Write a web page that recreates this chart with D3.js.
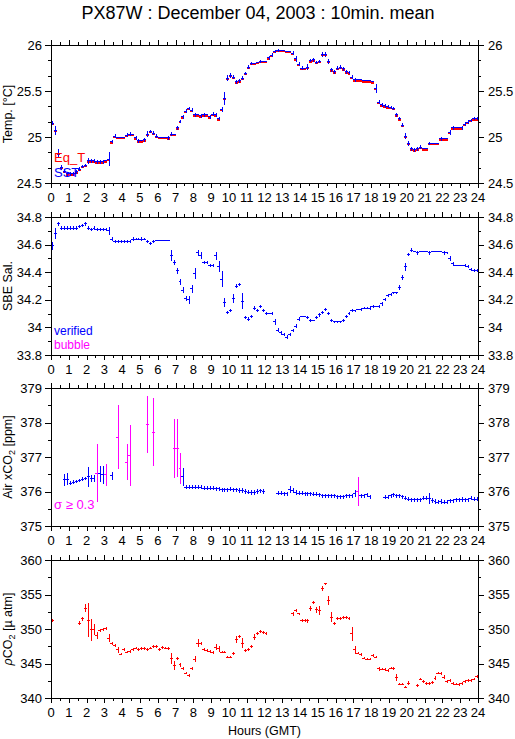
<!DOCTYPE html>
<html>
<head>
  <meta charset="utf-8">
  <title>PX87W 10min mean</title>
  <script src="https://d3js.org/d3.v7.min.js"></script>
  <style>
    body { margin: 0; background: #fff; }
    svg { display: block; font-family: "Liberation Sans", Arial, Helvetica, sans-serif; }
    line { shape-rendering: crispEdges; }
  </style>
</head>
<body>
  <div id="chart"></div>
  <script>
    // 10-minute slots, 144 per day; slot i covers hours i/6 .. (i+1)/6
    var hourTicks = d3.range(0, 25);

    var sstVal = [
      25.15,25.07,24.82,24.67,24.63,24.60,24.60,24.60,24.62,24.65,24.68,24.69,
      24.74,24.74,24.74,24.73,24.73,24.73,24.74,24.76,24.95,25.01,25.00,25.00,
      25.00,25.02,25.03,25.03,24.99,24.96,24.96,24.97,25.03,25.06,25.04,25.01,
      25.00,25.00,25.00,24.99,25.03,25.03,25.10,25.17,25.22,25.28,25.31,25.29,
      25.24,25.24,25.23,25.24,25.24,25.22,25.25,25.24,25.20,25.30,25.42,25.64,
      25.67,25.65,25.60,25.61,25.64,25.69,25.76,25.80,25.80,25.81,25.82,25.82,
      25.82,25.86,25.89,25.93,25.94,25.94,25.94,25.93,25.93,25.91,25.85,25.79,
      25.75,25.75,25.76,25.83,25.84,25.81,25.82,25.90,25.90,25.82,25.73,25.71,
      25.75,25.76,25.74,25.71,25.70,25.65,25.62,25.62,25.62,25.61,25.61,25.61,
      25.60,25.53,25.38,25.35,25.34,25.33,25.32,25.31,25.24,25.20,25.13,25.01,
      24.93,24.87,24.86,24.87,24.89,24.87,24.87,24.93,24.93,24.93,24.93,24.98,
      24.98,24.98,25.05,25.10,25.10,25.10,25.10,25.14,25.16,25.18,25.20,25.20
    ];
    var sstErr = [
      .02,.045,.05,.03,.02,.02,.02,.02,.02,.02,.02,.02,
      .03,.02,.02,.02,.02,.02,.005,.08,.02,.02,.005,.005,
      .005,.02,.02,.005,.02,.02,.005,.02,.03,.02,.02,.02,
      .005,.005,.005,.02,.02,.005,.02,.02,.02,.02,.02,.02,
      .02,.005,.02,.02,.005,.02,.02,.02,.02,.03,.07,.03,
      .025,.02,.02,.02,.02,.02,.02,.02,.005,.005,.02,.005,
      .005,.02,.02,.02,.02,.005,.005,.005,.005,.02,.03,.02,
      .02,.005,.03,.02,.02,.02,.02,.025,.025,.025,.02,.02,
      .02,.02,.02,.02,.02,.02,.02,.005,.005,.005,.005,.005,
      .005,.05,.02,.02,.02,.02,.02,.02,.025,.02,.02,.03,
      .025,.025,.02,.02,.02,.005,.005,.02,.005,.005,.005,.02,
      .005,.005,.025,.02,.005,.005,.02,.02,.02,.02,.02,.02
    ];
    var eqtVal = [
      25.14,25.06,24.81,24.66,24.62,24.59,24.59,24.59,24.61,24.64,24.67,24.68,
      24.73,24.73,24.73,24.72,24.72,24.72,24.73,24.75,24.94,25.00,24.99,24.99,
      24.99,25.01,25.02,25.02,24.98,24.95,24.95,24.96,25.02,25.05,25.03,25.00,
      24.99,24.99,24.99,24.98,25.02,25.02,25.09,25.16,25.21,25.27,25.30,25.28,
      25.23,25.23,25.22,25.23,25.23,25.21,25.24,25.23,25.19,25.29,25.41,25.63,
      25.66,25.64,25.59,25.60,25.63,25.68,25.75,25.79,25.79,25.80,25.81,25.81,
      25.81,25.85,25.88,25.92,25.93,25.93,25.93,25.92,25.92,25.90,25.84,25.78,
      25.74,25.74,25.75,25.82,25.83,25.80,25.81,25.89,25.89,25.81,25.72,25.70,
      25.74,25.75,25.73,25.70,25.69,25.64,25.61,25.61,25.61,25.60,25.60,25.60,
      25.59,25.52,25.37,25.34,25.33,25.32,25.31,25.30,25.23,25.19,25.12,25.00,
      24.92,24.86,24.85,24.86,24.88,24.86,24.86,24.92,24.92,24.92,24.92,24.97,
      24.97,24.97,25.04,25.09,25.09,25.09,25.09,25.13,25.15,25.17,25.19,25.19
    ];

    var salVal = [
      34.59,34.68,34.75,34.72,34.72,34.72,34.72,34.72,34.72,34.73,34.74,34.75,
      34.72,34.71,34.72,34.71,34.71,34.71,34.71,34.70,34.64,34.62,34.62,34.62,
      34.62,34.62,34.62,34.64,34.64,34.64,34.64,34.64,34.62,34.61,34.62,34.63,
      34.63,34.63,34.63,34.63,34.52,34.47,34.41,34.33,34.27,34.21,34.20,34.28,
      34.39,34.54,34.52,34.47,34.47,34.45,34.45,34.52,34.44,34.35,34.18,34.11,
      34.12,34.21,34.30,34.31,34.19,34.07,34.06,34.08,34.14,34.12,34.15,34.12,
      34.10,34.10,34.10,34.04,33.98,33.96,33.95,33.93,33.95,33.98,34.01,34.06,
      34.08,34.08,34.07,34.05,34.05,34.07,34.09,34.11,34.13,34.10,34.05,34.04,
      34.04,34.04,34.05,34.08,34.10,34.12,34.12,34.13,34.13,34.14,34.14,34.14,
      34.15,34.15,34.15,34.17,34.20,34.23,34.24,34.25,34.25,34.29,34.36,34.44,
      34.53,34.56,34.55,34.54,34.55,34.55,34.55,34.54,34.55,34.55,34.55,34.55,
      34.54,34.54,34.50,34.46,34.45,34.45,34.45,34.45,34.44,34.42,34.41,34.41
    ];
    var salErr = [
      .03,.04,.012,.012,.012,.012,.012,.012,.012,.012,.012,.012,
      .012,.012,.012,.012,.012,.012,.012,.03,.012,.012,.012,.012,
      .012,.012,.012,.012,.005,.005,.012,.005,.012,.012,.012,.005,
      .005,.005,.005,.005,.04,.02,.02,.02,.02,.02,.03,.03,
      .04,.02,.025,.012,.012,.012,.012,.03,.04,.06,.03,.012,
      .012,.03,.012,.012,.06,.012,.012,.012,.012,.012,.012,.012,
      .012,.005,.012,.02,.015,.012,.012,.012,.012,.012,.012,.015,
      .005,.005,.012,.012,.005,.012,.012,.012,.012,.012,.012,.005,
      .005,.005,.012,.012,.012,.012,.005,.005,.012,.005,.005,.012,
      .012,.005,.012,.012,.012,.012,.012,.005,.005,.02,.02,.03,
      .012,.012,.005,.012,.005,.005,.005,.012,.005,.005,.005,.005,
      .012,.005,.02,.012,.005,.005,.005,.012,.012,.012,.012,.012
    ];

    var xco2Val = [
      null,null,null,null,376.34,376.36,376.24,376.27,376.29,376.32,376.36,376.38,
      376.43,376.38,376.38,376.53,376.51,376.48,376.48,null,376.45,null,377.57,null,
      null,376.85,377.04,null,null,null,null,null,377.95,null,377.72,null,
      null,null,null,null,null,377.24,377.26,376.68,376.43,376.12,376.12,376.12,
      376.12,376.12,376.12,376.10,376.10,376.09,376.09,376.08,376.08,376.05,376.05,376.05,
      376.07,376.05,376.05,376.03,376.03,376.00,375.98,375.97,375.97,376.00,376.02,376.00,
      null,null,null,null,375.95,375.95,375.93,375.93,376.07,376.03,375.97,375.95,
      375.95,375.93,375.93,375.93,375.92,375.92,375.90,375.87,375.87,375.87,375.87,375.87,
      375.85,375.85,375.85,375.87,375.87,375.87,375.93,376.00,375.87,375.87,375.90,375.85,
      null,null,null,null,375.83,375.83,375.87,375.90,375.87,375.87,375.85,375.80,
      375.78,375.76,375.76,375.76,375.76,375.80,375.80,375.80,375.74,375.71,375.69,375.71,
      375.69,375.69,375.73,375.73,375.76,375.76,375.77,375.76,375.76,375.80,375.78,375.78
    ];
    var xco2Err = [
      0,0,0,0,.17,.17,.05,.05,.05,.05,.05,.05,
      .29,.1,.1,.84,.23,.27,.31,0,.12,0,.93,0,
      0,.52,.89,0,0,0,0,0,.83,0,.99,0,
      0,0,0,0,0,.86,.84,.45,.26,.06,.06,.06,
      .06,.06,.06,.06,.06,.06,.06,.06,.06,.06,.06,.06,
      .06,.06,.06,.06,.06,.06,.06,.06,.06,.06,.06,.06,
      0,0,0,0,.06,.06,.06,.06,.1,.06,.06,.06,
      .06,.06,.06,.06,.06,.06,.06,.06,.06,.06,.06,.06,
      .06,.06,.06,.06,.06,.06,.1,.42,.06,.06,.06,.06,
      0,0,0,0,.06,.06,.06,.06,.06,.06,.06,.06,
      .06,.06,.06,.06,.06,.06,.06,.16,.06,.06,.06,.06,
      .06,.06,.06,.06,.06,.06,.06,.06,.06,.06,.06,.06
    ];

    var pco2Val = [
      351.18,null,null,null,null,null,null,null,null,350.84,351.47,353.00,
      351.30,349.88,349.98,349.06,349.78,349.88,350.02,348.67,347.86,347.61,346.99,346.36,
      346.99,346.65,346.75,347.08,347.23,347.08,347.13,347.13,346.99,347.23,347.47,347.47,
      347.08,347.33,347.23,347.13,345.78,344.72,345.69,344.82,344.24,343.61,343.23,344.24,
      345.64,347.95,347.86,346.99,346.89,346.75,346.60,347.37,347.13,346.65,346.65,345.93,
      345.93,346.41,348.53,348.92,347.95,346.84,346.99,347.47,348.82,349.30,349.64,349.54,
      349.40,null,null,null,null,null,null,null,null,352.19,352.67,352.19,
      351.23,351.23,351.18,353.00,353.88,352.77,352.67,355.90,356.53,354.12,351.71,350.75,
      351.57,351.57,351.66,351.71,351.57,349.30,346.99,346.51,346.27,345.78,345.64,345.64,
      346.12,345.93,344.24,344.19,344.10,344.00,344.34,344.24,342.99,342.02,342.02,341.59,
      342.17,null,null,341.78,342.75,342.41,342.07,342.07,342.27,342.89,343.61,343.52,
      343.04,342.41,342.55,342.07,342.02,341.93,342.07,342.41,342.55,342.55,342.75,343.13
    ];
    var pco2Err = [
      .2,0,0,0,0,0,0,0,0,.3,.3,.6,
      2.5,1.6,.8,.5,.2,.2,.2,.6,.2,.2,.4,.2,
      .2,.2,.2,.2,.2,.2,.2,.2,.2,.2,.2,.2,
      .2,.2,.2,.2,.8,.7,.2,.3,.2,.2,.2,.2,
      .4,.6,.2,.2,.2,.2,.2,.4,.4,.2,.2,.2,
      .2,.2,.5,.2,.7,.2,.2,.2,.4,.2,.2,.2,
      .2,0,0,0,0,0,0,0,0,.3,.2,.2,
      .2,.2,.3,.4,.2,.4,.7,.4,.2,.7,.7,.2,
      .2,.2,.2,.2,.2,1.0,.6,.2,.2,.2,.2,.2,
      .2,.2,.3,.2,.2,.2,.2,.2,.5,.2,.2,.2,
      .3,0,0,.2,.2,.2,.2,.2,.2,.3,.2,.2,
      .3,.2,.2,.2,.2,.2,.2,.2,.2,.2,.2,.2
    ];

    var W = 515, H = 739;
    var left = 51, right = 478, ph = 138;
    var tops = [45, 217, 388, 560];

    var svg = d3.select("#chart").append("svg")
      .attr("width", W).attr("height", H);

    svg.append("text")
      .attr("x", 258).attr("y", 19)
      .attr("text-anchor", "middle")
      .attr("font-size", 18)
      .text("PX87W : December 04, 2003 : 10min. mean");

    var x = d3.scaleLinear().domain([0, 24]).range([left, right]);

    var panels = [
      { domain: [24.5, 26], ticks: [24.5, 25, 25.5, 26], minor: d3.range(24.5, 26.01, 0.5 / 3), label: "Temp. [°C]",
        series: [
          { val: eqtVal, err: null, color: "#ff0000", width: 2 },
          { val: sstVal, err: sstErr, color: "#0000ff", width: 1 }
        ],
        legend: [["Eq_T", "#ff0000", 162, 13], ["SST", "#0000ff", 177, 13]] },
      { domain: [33.8, 34.8], ticks: [33.8, 34, 34.2, 34.4, 34.6, 34.8], minor: d3.range(33.8, 34.81, 0.1), label: "SBE Sal.",
        series: [{ val: salVal, err: salErr, color: "#0000ff", width: 1 }],
        legend: [["verified", "#0000ff", 335, 12], ["bubble", "#ff00ff", 349, 12]] },
      { domain: [375, 379], ticks: [375, 376, 377, 378, 379], minor: d3.range(375, 379.01, 0.5), label: "xco2",
        series: [{ val: xco2Val, err: xco2Err, color: "#0000ff", width: 1, flag: 0.3 }],
        legend: [["σ ≥ 0.3", "#ff00ff", 509, 13]] },
      { domain: [340, 360], ticks: [340, 345, 350, 355, 360], minor: d3.range(340, 360.01, 2.5), label: "pco2",
        series: [{ val: pco2Val, err: pco2Err, color: "#ff0000", width: 1 }],
        legend: [] }
    ];

    var fmt = d3.format("~g");

    panels.forEach(function (p, k) {
      var top = tops[k], bottom = top + ph;
      var y = d3.scaleLinear().domain(p.domain).range([bottom, top]);
      var g = svg.append("g");

      // data: horizontal bar across the 10 min slot, vertical bar for std
      p.series.forEach(function (s) {
        var pts = s.val.map(function (v, i) {
          return { i: i, v: v, e: s.err ? s.err[i] : 0 };
        }).filter(function (d) { return d.v !== null; });
        var colorOf = function (d) {
          return (s.flag && d.e >= s.flag) ? "#ff00ff" : s.color;
        };
        g.selectAll(null).data(pts).enter().append("line")
          .attr("x1", function (d) { return x(d.i / 6); })
          .attr("x2", function (d) { return x((d.i + 1) / 6); })
          .attr("y1", function (d) { return y(d.v); })
          .attr("y2", function (d) { return y(d.v); })
          .attr("stroke", colorOf)
          .attr("stroke-width", s.width);
        if (s.err) {
          g.selectAll(null).data(pts.filter(function (d) { return d.e > 0; })).enter().append("line")
            .attr("x1", function (d) { return Math.round(x((d.i + 0.5) / 6)) + 0.5; })
            .attr("x2", function (d) { return Math.round(x((d.i + 0.5) / 6)) + 0.5; })
            .attr("y1", function (d) { return y(d.v - d.e); })
            .attr("y2", function (d) { return y(d.v + d.e); })
            .attr("stroke", colorOf)
            .attr("stroke-width", 1);
        }
      });

      // frame
      g.append("rect")
        .attr("x", left).attr("y", top)
        .attr("width", right - left).attr("height", ph)
        .attr("fill", "none").attr("stroke", "#000")
        .attr("shape-rendering", "crispEdges");

      // x ticks, outward, top and bottom
      var halfTicks = d3.range(0.5, 24, 1);
      [[top, -1], [bottom, 1]].forEach(function (a) {
        g.selectAll(null).data(hourTicks).enter().append("line")
          .attr("x1", function (d) { return Math.round(x(d)) + 0.5; })
          .attr("x2", function (d) { return Math.round(x(d)) + 0.5; })
          .attr("y1", a[0]).attr("y2", a[0] + a[1] * 5)
          .attr("stroke", "#000");
        g.selectAll(null).data(halfTicks).enter().append("line")
          .attr("x1", function (d) { return Math.round(x(d)) + 0.5; })
          .attr("x2", function (d) { return Math.round(x(d)) + 0.5; })
          .attr("y1", a[0]).attr("y2", a[0] + a[1] * 3)
          .attr("stroke", "#000");
      });
      g.selectAll(null).data(hourTicks).enter().append("text")
        .attr("x", function (d) { return x(d); })
        .attr("y", bottom + 19)
        .attr("text-anchor", "middle")
        .attr("font-size", 13)
        .text(function (d) { return d; });

      // y ticks, outward, left and right
      [[left, -1], [right, 1]].forEach(function (a) {
        g.selectAll(null).data(p.minor).enter().append("line")
          .attr("x1", a[0]).attr("x2", a[0] + a[1] * 3)
          .attr("y1", function (d) { return Math.round(y(d)) + 0.5; })
          .attr("y2", function (d) { return Math.round(y(d)) + 0.5; })
          .attr("stroke", "#000");
        g.selectAll(null).data(p.ticks).enter().append("line")
          .attr("x1", a[0]).attr("x2", a[0] + a[1] * 6)
          .attr("y1", function (d) { return Math.round(y(d)) + 0.5; })
          .attr("y2", function (d) { return Math.round(y(d)) + 0.5; })
          .attr("stroke", "#000");
        g.selectAll(null).data(p.ticks).enter().append("text")
          .attr("x", a[1] < 0 ? 42 : 488)
          .attr("y", function (d) { return y(d); })
          .attr("dy", "0.35em")
          .attr("text-anchor", a[1] < 0 ? "end" : "start")
          .attr("font-size", 13)
          .text(function (d) { return fmt(d); });
      });

      // y label
      var lab = g.append("text")
        .attr("transform", "translate(12," + (top + ph / 2) + ") rotate(-90)")
        .attr("text-anchor", "middle")
        .attr("font-size", 12.5);
      if (p.label === "xco2") {
        lab.append("tspan").text("Air xCO");
        lab.append("tspan").attr("font-size", 9).attr("dy", 3).text("2");
        lab.append("tspan").attr("dy", -3).text(" [ppm]");
      } else if (p.label === "pco2") {
        lab.append("tspan").attr("font-style", "italic").text("ρ");
        lab.append("tspan").text("CO");
        lab.append("tspan").attr("font-size", 9).attr("dy", 3).text("2");
        lab.append("tspan").attr("dy", -3).text(" [µ atm]");
      } else {
        lab.text(p.label);
      }

      p.legend.forEach(function (l) {
        g.append("text")
          .attr("x", 54).attr("y", l[2])
          .attr("fill", l[1])
          .attr("font-size", l[3])
          .text(l[0]);
      });
    });

    svg.append("text")
      .attr("x", (left + right) / 2).attr("y", 735)
      .attr("text-anchor", "middle")
      .attr("font-size", 12.5)
      .text("Hours (GMT)");
  </script>
</body>
</html>
